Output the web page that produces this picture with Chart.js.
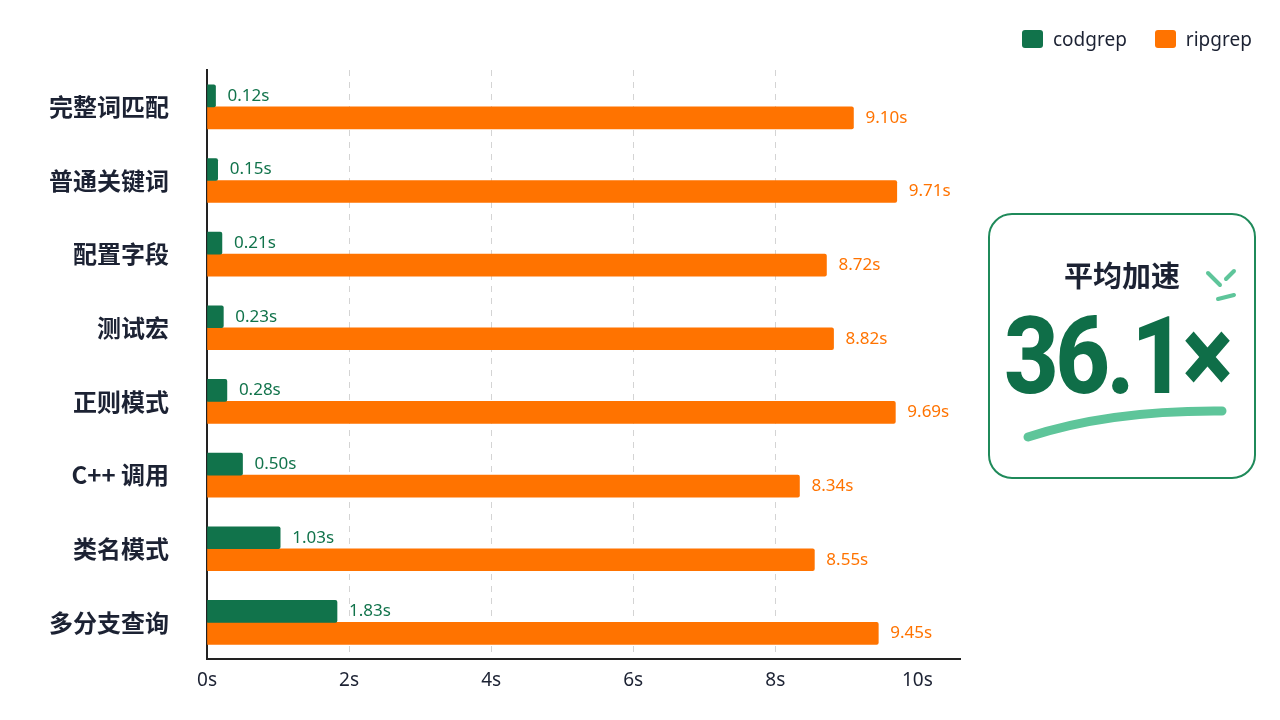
<!DOCTYPE html>
<html><head><meta charset="utf-8">
<script src="https://cdn.jsdelivr.net/npm/chart.js@4.4.0/dist/chart.umd.min.js"></script>
<style>
body{margin:0;background:#fff;font-family:"Noto Sans CJK SC","Noto Sans",sans-serif}
#wrap{position:relative;width:1280px;height:720px}
#legend{position:absolute;left:1022px;top:26px;font-family:"Noto Sans",sans-serif;font-size:19px;color:#1c2233;display:flex;gap:28px}
#legend span{display:inline-flex;align-items:center}
#legend i{display:inline-block;width:21px;height:18px;border-radius:3px;margin-right:10px}
#card{position:absolute;left:988px;top:213px;width:264px;height:262px;border:2px solid #1f8a5a;border-radius:24px;background:#fff}
#card .t{position:absolute;top:38px;left:0;width:100%;text-align:center;font-size:29px;font-weight:700;color:#1c2233}
#card .n{position:absolute;top:78px;left:14px;font-size:108px;font-weight:800;color:#0f6e48;letter-spacing:-4px;font-family:"Roboto","Noto Sans",sans-serif;transform:scaleX(0.88);transform-origin:left}
</style></head>
<body><div id="wrap">
<canvas id="c" width="1280" height="720"></canvas>
<div id="legend"></div>
<div id="card"><div class="t">平均加速</div><div class="n">36.1×</div>
<svg width="264" height="262" style="position:absolute;left:0;top:0">
<path d="M38 222 Q120 195 232 196" stroke="#5ec59a" stroke-width="9" fill="none" stroke-linecap="round"/>
<g stroke="#5ec59a" stroke-width="4" stroke-linecap="round"><line x1="218" y1="58" x2="230" y2="70"/><line x1="228" y1="84" x2="244" y2="80"/><line x1="236" y1="64" x2="244" y2="56"/></g>
</svg></div>
</div>
<script>
// data
const categories = ['完整词匹配', '普通关键词', '配置字段', '测试宏', '正则模式', 'C++ 调用', '类名模式', '多分支查询'];
const codgrep = [0.12, 0.15, 0.21, 0.23, 0.28, 0.50, 1.03, 1.83];
const ripgrep = [9.10, 9.71, 8.72, 8.82, 9.69, 8.34, 8.55, 9.45];
const xTicks = [0, 2, 4, 6, 8, 10];

const green = '#11734b', orange = '#ff7300';

// value labels right of each bar
const barLabels = {
  id: 'barLabels',
  afterDatasetsDraw(chart) {
    const ctx = chart.ctx;
    ctx.save();
    ctx.font = '17px "Noto Sans", sans-serif';
    ctx.textBaseline = 'middle';
    chart.data.datasets.forEach((ds, i) => {
      ctx.fillStyle = ds.backgroundColor;
      chart.getDatasetMeta(i).data.forEach((bar, j) => {
        ctx.fillText(ds.data[j].toFixed(2) + 's', bar.x + 12, bar.y);
      });
    });
    ctx.restore();
  }
};

const chart = new Chart(document.getElementById('c'), {
  type: 'bar',
  data: {
    labels: categories,
    datasets: [
      { label: 'codgrep', data: codgrep, backgroundColor: green, barThickness: 22, borderRadius: 2 },
      { label: 'ripgrep', data: ripgrep, backgroundColor: orange, barThickness: 22, borderRadius: 2 }
    ]
  },
  options: {
    indexAxis: 'y',
    responsive: false,
    animation: false,
    layout: { padding: { left: 12, right: 320, top: 70, bottom: 18 } },
    plugins: { legend: { display: false }, tooltip: { enabled: false } },
    scales: {
      x: {
        min: 0, max: 10.6,
        afterBuildTicks: s => { s.ticks = xTicks.map(v => ({ value: v })); },
        ticks: { callback: v => v + 's', color: '#1c2233', font: { size: 19, family: '"Noto Sans", sans-serif' }, padding: 10 },
        grid: { color: c => (c.tick && c.tick.value > 0 && c.tick.value < 10) ? '#d4d4d4' : 'transparent', drawTicks: false },
        border: { display: true, color: '#222', width: 2, dash: [6, 6] }
      },
      y: {
        afterFit: s => { s.width = 195; },
        ticks: { color: '#1c2233', font: { size: 24, weight: 'bold', family: '"Noto Sans CJK SC", sans-serif' }, padding: 30 },
        grid: { display: false },
        border: { color: '#222', width: 2 }
      }
    }
  },
  plugins: [barLabels]
});

// legend in the top right
document.getElementById('legend').innerHTML = chart.data.datasets
  .map(ds => `<span><i style="background:${ds.backgroundColor}"></i>${ds.label}</span>`).join('');
</script>
</body></html>
